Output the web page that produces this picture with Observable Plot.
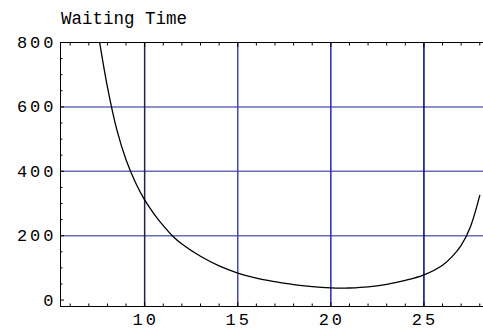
<!DOCTYPE html>
<html><head><meta charset="utf-8">
<script src="https://cdn.jsdelivr.net/npm/d3@7"></script>
<script src="https://cdn.jsdelivr.net/npm/@observablehq/plot@0.6"></script>
<style>
body{margin:0;background:#fff;}
#title{font-family:"Liberation Mono",monospace;font-size:17.5px;height:30px;line-height:30px;padding-left:61px;box-sizing:border-box;color:#000;position:relative;}
#title span{position:relative;top:4px;}
</style></head><body>
<div id="title"><span>Waiting Time</span></div>
<div id="chart"></div>
<script>
// Curve samples
const servers = [7.5, 8.0, 8.5, 9.0, 9.5, 10, 10.5, 11, 11.5, 12, 13, 14, 15, 16, 17, 18, 19, 20, 20.5, 21, 22, 23, 24, 25, 26, 26.5, 27, 27.5, 28];
const waitTimes = [830, 662, 530, 436, 366, 311, 268, 231, 199, 174, 136, 106, 84, 68, 57, 48, 42, 38, 37, 37.5, 41, 49, 61, 78, 108, 134, 170, 228, 325];

const xMajorTicks = [10, 15, 20, 25];
const xTickLabels = ["10", "15", "20", "25"];
const xMinorTicks = [6, 7, 8, 9, 11, 12, 13, 14, 16, 17, 18, 19, 21, 22, 23, 24, 26, 27, 28];
const yMajorTicks = [0, 200, 400, 600, 800];
const yTickLabels = ["0", "200", "400", "600", "800"];
const yMinorTicks = [50, 100, 150, 250, 300, 350, 450, 500, 550, 650, 700, 750];
const xGridLines = [10, 15, 20, 25];
const yGridLines = [200, 400, 600];

const xDomain = [5.48, 28.2];
const yDomain = [-20, 800];

const xGridColors = ["#22224a", "#4848aa", "#2a2ab4", "#000078"];
const yGridColor = "#6a6ab8";

const data = servers.map((x, i) => ({x, y: waitTimes[i]}));

const chart = Plot.plot({
  width: 483,
  height: 299,
  marginTop: 12,
  marginBottom: 23,
  marginLeft: 60,
  marginRight: 0,
  x: {domain: xDomain, label: null},
  y: {domain: yDomain, label: null},
  style: {fontFamily: "Liberation Mono, monospace", fontSize: "17px", color: "black", background: "white"},
  marks: [
    Plot.ruleY(yGridLines, {stroke: yGridColor, strokeWidth: 1.5}),
    Plot.ruleX(xGridLines, {stroke: d => xGridColors[xGridLines.indexOf(d)], strokeWidth: 1.5}),
    Plot.line(data, {x: "x", y: "y", stroke: "black", strokeWidth: 1.3, curve: "catmull-rom", clip: true}),
    Plot.ruleY([yDomain[1]], {stroke: "black", strokeWidth: 1}),
    Plot.ruleY([yDomain[0]], {stroke: "black", strokeWidth: 1}),
    Plot.ruleX([xDomain[0]], {stroke: "black", strokeWidth: 1}),
    // inward ticks
    Plot.axisX(xMajorTicks, {anchor: "bottom", tickSize: -4, fill: "none", label: null}),
    Plot.axisX(xMinorTicks, {anchor: "bottom", tickSize: -2.5, fill: "none", label: null}),
    Plot.axisX(xMajorTicks, {anchor: "top", tickSize: -4, fill: "none", label: null}),
    Plot.axisX(xMinorTicks, {anchor: "top", tickSize: -2.5, fill: "none", label: null}),
    Plot.axisY(yMajorTicks, {anchor: "left", tickSize: -4, fill: "none", label: null}),
    Plot.axisY(yMinorTicks, {anchor: "left", tickSize: -2.5, fill: "none", label: null}),
    // labels
    Plot.axisX(xMajorTicks, {anchor: "bottom", tickSize: 0, tickPadding: 6, tickFormat: d => xTickLabels[xMajorTicks.indexOf(d)], label: null, dx: 1}),
    Plot.axisY(yMajorTicks, {anchor: "left", tickSize: 0, tickPadding: 4, tickFormat: d => yTickLabels[yMajorTicks.indexOf(d)], label: null})
  ]
});
chart.querySelectorAll('g[aria-label$="tick label"]').forEach(g => g.setAttribute("letter-spacing", "3px"));
document.getElementById("chart").appendChild(chart);
</script>
</body></html>
